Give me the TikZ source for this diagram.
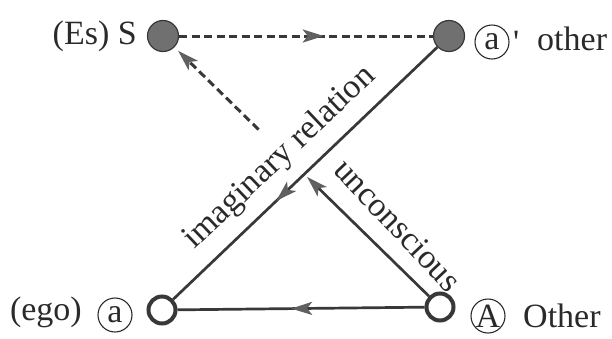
\documentclass[tikz,border=0pt]{standalone}
\usepackage{fontspec}
\setmainfont{Liberation Serif}
\newfontfamily\bookface{Liberation Serif}
\usetikzlibrary{arrows.meta,decorations.markings,calc,positioning}

\definecolor{inkgray}{HTML}{383838}
\definecolor{tipgray}{HTML}{606060}
\definecolor{dotgray}{HTML}{707070}
\definecolor{textgray}{HTML}{2A2A2A}

\begin{document}
\begin{tikzpicture}[x=1pt,y=-1pt,
    midarrow/.style={postaction={decorate,decoration={markings,
        mark=at position #1 with {\arrow[tipgray]{Stealth[length=21pt,width=13pt,inset=5pt]}}}}}]
        \tikzstyle{full}=[circle,fill=dotgray,draw=inkgray,line width=1.2pt,minimum size=31pt,inner sep=0pt]
        \tikzstyle{hollow}=[circle,fill=white,draw=inkgray,line width=4pt,minimum size=27pt,inner sep=0pt]
        \tikzstyle{lbl}=[font=\bookface\fontsize{34}{40}\selectfont,text=textgray,inner sep=0pt]
        \tikzstyle{circled}=[lbl,circle,draw=textgray,line width=1.1pt,minimum size=34pt]
        \tikzstyle{link}=[draw=inkgray,line width=2.7pt]
        \tikzstyle{dashlink}=[draw=inkgray,line width=3pt,dash pattern=on 8pt off 4.5pt]

        \useasboundingbox (0,0) rectangle (612,338);

        % the four corners
        \node [full] (S) at (163,36) {};
        \node [full] (ap) at (449,36) {};
        \node [hollow] (a) at (162,310) {};
        \node [hollow] (A) at (440,307) {};

        % their names
        \node [lbl,anchor=base east] (S_label) at (137,44) {(Es) S};
        \node [circled] (ap_circ) at (492,42) {a};
        \node [lbl,anchor=base west] (ap_prime) at (513,53) {\textquotesingle};
        \node [lbl,anchor=base west] (ap_label) at (537,50) {other};
        \node [lbl,anchor=base east] (a_label) at (82,320) {(ego)};
        \node [circled] (a_circ) at (115,315) {a};
        \node [circled] (A_circ) at (488,316) {A};
        \node [lbl,anchor=base west] (A_label) at (523,327) {Other};

        % broken line from A to S
        \coordinate (u_tip) at ($(A.center)!0.48!(S.center)$);
        \coordinate (d_start) at ($(A.center)!0.655!(S.center)$);

        \draw [dashlink,midarrow=0.57] (S) -- (ap);                 % S->a'
        \draw [link,midarrow=0.61] (ap) -- (a);                     % a'->a
        \draw [link,midarrow=0.54] (A) -- (a);                      % A->a
        \draw [link,-{Stealth[length=21pt,width=13pt,inset=5pt,color=tipgray]}] (A) -- (u_tip);  % A->
        \draw [dashlink,-{Stealth[length=21pt,width=13pt,inset=5pt,color=tipgray]},shorten >=5pt] (d_start) -- (S);  % ->S

        % texts on the lines
        \node [lbl,rotate=43.4] (imag) at (280,158) {imaginary relation};
        \node [lbl,rotate=-46.6] (uncon) at (398,225) {unconscious};

\end{tikzpicture}
\end{document}
